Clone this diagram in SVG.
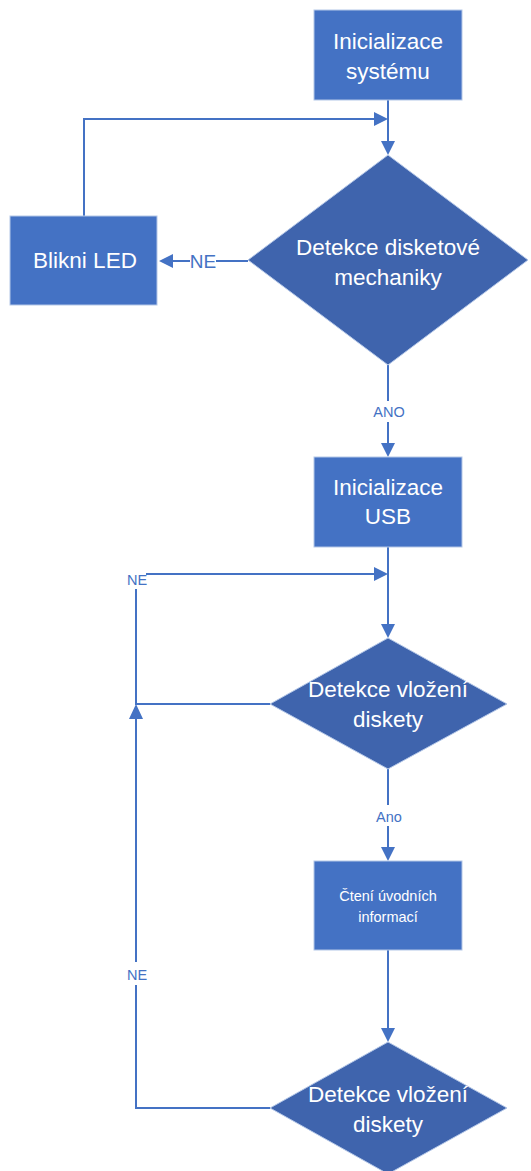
<svg xmlns="http://www.w3.org/2000/svg" width="531" height="1171" viewBox="0 0 531 1171">
<style>
.box{fill:#4472C4;stroke:#B4C7E7;stroke-width:1}
.dia{fill:#3F64AD;stroke:#B4C7E7;stroke-width:1}
.t{font-family:"Liberation Sans",Arial,sans-serif;fill:#ffffff;text-anchor:middle}
.big{font-size:22.5px}
.small{font-size:14.5px}
.ln{fill:none;stroke:#4472C4;stroke-width:2}
.lbl{font-family:"Liberation Sans",Arial,sans-serif;fill:#4472C4;text-anchor:middle;font-size:14.5px}
.ah{fill:#4472C4}
</style>
<rect width="531" height="1171" fill="#ffffff"/>
<g id="connectors">
  <path class="ln" d="M388,100 V142"/>
  <polygon class="ah" points="381,141 395,141 388,155"/>
  <path class="ln" d="M84,216 V119 H375"/>
  <polygon class="ah" points="374,112 374,126 388,119"/>
  <path class="ln" d="M248,261 H216 M190,261 H172"/>
  <polygon class="ah" points="173,254 173,268 159,261"/>
  <text class="lbl" x="203" y="268" style="font-size:19px">NE</text>
  <path class="ln" d="M388,365 V401 M388,422 V444"/>
  <polygon class="ah" points="381,443 395,443 388,457"/>
  <text class="lbl" x="389" y="417">ANO</text>
  <path class="ln" d="M388,547 V625"/>
  <polygon class="ah" points="381,624 395,624 388,638"/>
  <path class="ln" d="M146,574 H375"/>
  <polygon class="ah" points="374,567 374,581 388,574"/>
  <text class="lbl" x="137" y="585">NE</text>
  <path class="ln" d="M136,589 V704 H270"/>
  <path class="ln" d="M388,769 V805 M388,826 V848"/>
  <polygon class="ah" points="381,847 395,847 388,861"/>
  <text class="lbl" x="389" y="822">Ano</text>
  <path class="ln" d="M388,950 V1029"/>
  <polygon class="ah" points="381,1028 395,1028 388,1042"/>
  <path class="ln" d="M270,1108 H136 V985 M136,962 V717"/>
  <polygon class="ah" points="129,719 143,719 136,704"/>
  <text class="lbl" x="137" y="980">NE</text>
</g>
<g id="init-system">
  <rect class="box" x="314" y="10" width="148" height="90"/>
  <text class="t big" x="388" y="49">Inicializace</text>
  <text class="t big" x="388" y="79">systému</text>
</g>
<g id="blikni-led">
  <rect class="box" x="10" y="216" width="147" height="89"/>
  <text class="t big" x="85" y="268">Blikni LED</text>
</g>
<g id="detekce-mechaniky">
  <polygon class="dia" points="388,155 528,260 388,365 248,260"/>
  <text class="t big" x="388" y="255">Detekce disketové</text>
  <text class="t big" x="388" y="285">mechaniky</text>
</g>
<g id="init-usb">
  <rect class="box" x="314" y="457" width="148" height="90"/>
  <text class="t big" x="388" y="495">Inicializace</text>
  <text class="t big" x="388" y="524">USB</text>
</g>
<g id="detekce-vlozeni-1">
  <polygon class="dia" points="388,638 507,704 388,769 270,704"/>
  <text class="t big" x="388" y="697">Detekce vložení</text>
  <text class="t big" x="388" y="727">diskety</text>
</g>
<g id="cteni">
  <rect class="box" x="314" y="861" width="148" height="89"/>
  <text class="t small" x="388" y="901">Čtení úvodních</text>
  <text class="t small" x="388" y="922">informací</text>
</g>
<g id="detekce-vlozeni-2">
  <polygon class="dia" points="388,1042 507,1108 388,1174 270,1108"/>
  <text class="t big" x="388" y="1102">Detekce vložení</text>
  <text class="t big" x="388" y="1132">diskety</text>
</g>
</svg>
